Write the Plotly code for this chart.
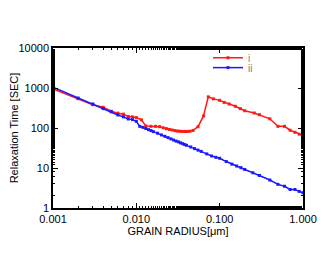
import plotly.graph_objects as go

# Series i (red)
radius_i = [0.001, 0.002, 0.003, 0.004, 0.005, 0.006, 0.007, 0.008, 0.009, 0.010,
            0.0115, 0.013, 0.015, 0.017, 0.019, 0.021, 0.023, 0.025, 0.027, 0.029,
            0.031, 0.033, 0.035, 0.037, 0.039, 0.041, 0.044, 0.048, 0.055, 0.064,
            0.073, 0.084, 0.100, 0.113, 0.130, 0.154, 0.177, 0.200, 0.260, 0.300,
            0.400, 0.500, 0.600, 0.700, 0.800, 0.900, 1.000]
time_i = [944, 540, 383, 330, 262, 235, 222, 195, 190, 182,
          160, 112, 110, 110, 108, 101, 96, 92, 89, 86,
          84, 83, 82, 82, 82, 82, 83, 87, 108, 200,
          600, 535, 490, 436, 398, 350, 305, 270, 237, 215,
          170, 110, 110, 88, 78, 70, 66]

# Series ii (blue)
radius_ii = [0.001, 0.002, 0.003, 0.004, 0.005, 0.006, 0.007, 0.008, 0.009, 0.010,
             0.011, 0.012, 0.013, 0.014, 0.015, 0.016, 0.018, 0.020, 0.022, 0.024,
             0.026, 0.028, 0.030, 0.032, 0.034, 0.036, 0.038, 0.040, 0.045, 0.050,
             0.055, 0.060, 0.070, 0.080, 0.090, 0.100, 0.120, 0.140, 0.160, 0.180,
             0.200, 0.250, 0.300, 0.400, 0.500, 0.600, 0.700, 0.800, 0.900, 1.000]
time_ii = [1050, 560, 400, 305, 255, 212, 190, 168, 162, 147,
           110, 104, 97, 91, 86, 81, 74, 67, 62, 57.5,
           53.5, 50, 47, 45, 42.5, 40.5, 38.5, 37, 33.5, 30.5,
           28, 26, 22.5, 20, 18.5, 17.5, 14.5, 12.5, 11.2, 10.2,
           9.2, 7.6, 6.5, 5.0, 3.9, 3.5, 2.9, 2.9, 2.6, 2.4]

x_tickvals = [0.001, 0.01, 0.1, 1.0]
x_ticktext = ["0.001", "0.010", "0.100", "1.000"]
y_tickvals = [1, 10, 100, 1000, 10000]
y_ticktext = ["1", "10", "100", "1000", "10000"]

fig = go.Figure()
fig.add_trace(go.Scatter(x=radius_i, y=time_i, mode="lines+markers", name="i",
                         line=dict(color="#ff1a1a", width=1.5),
                         marker=dict(symbol="square", size=3, color="#ff1a1a"),
                         legend="legend"))
fig.add_trace(go.Scatter(x=radius_ii, y=time_ii, mode="lines+markers", name="ii",
                         line=dict(color="#1a1aff", width=1.5),
                         marker=dict(symbol="square", size=3, color="#1a1aff"),
                         legend="legend2"))

axis_common = dict(type="log", showline=True, linecolor="black", linewidth=1.5,
                   mirror="ticks", ticks="inside", ticklen=5, tickcolor="black",
                   showgrid=False, zeroline=False, automargin=False,
                   tickfont=dict(family="Liberation Sans, Arial", size=11, color="black"),
                   minor=dict(ticks="inside", ticklen=2.5, tickcolor="black", showgrid=False))

fig.update_xaxes(range=[-3, 0], tickvals=x_tickvals, ticktext=x_ticktext,
                 title=dict(text="GRAIN RADIUS[μm]", standoff=2,
                            font=dict(family="Liberation Sans, Arial", size=11, color="black")),
                 **axis_common)
fig.update_yaxes(range=[0, 4], tickvals=y_tickvals, ticktext=y_ticktext,
                 title=dict(text="Relaxation Time [SEC]", standoff=4,
                            font=dict(family="Liberation Sans, Arial", size=11, color="black")),
                 **axis_common)

legend_common = dict(xanchor="left", yanchor="top", bgcolor="rgba(0,0,0,0)",
                     itemwidth=30,
                     font=dict(family="Liberation Sans, Arial", size=10, color="gray"))

fig.update_layout(
    width=322, height=247,
    margin=dict(l=45, r=27, t=40, b=47),
    paper_bgcolor="white", plot_bgcolor="white",
    showlegend=True,
    legend=dict(x=0.62, y=1.03, **legend_common),
    legend2=dict(x=0.62, y=0.968, **legend_common),
)

fig.write_html("out.html")
